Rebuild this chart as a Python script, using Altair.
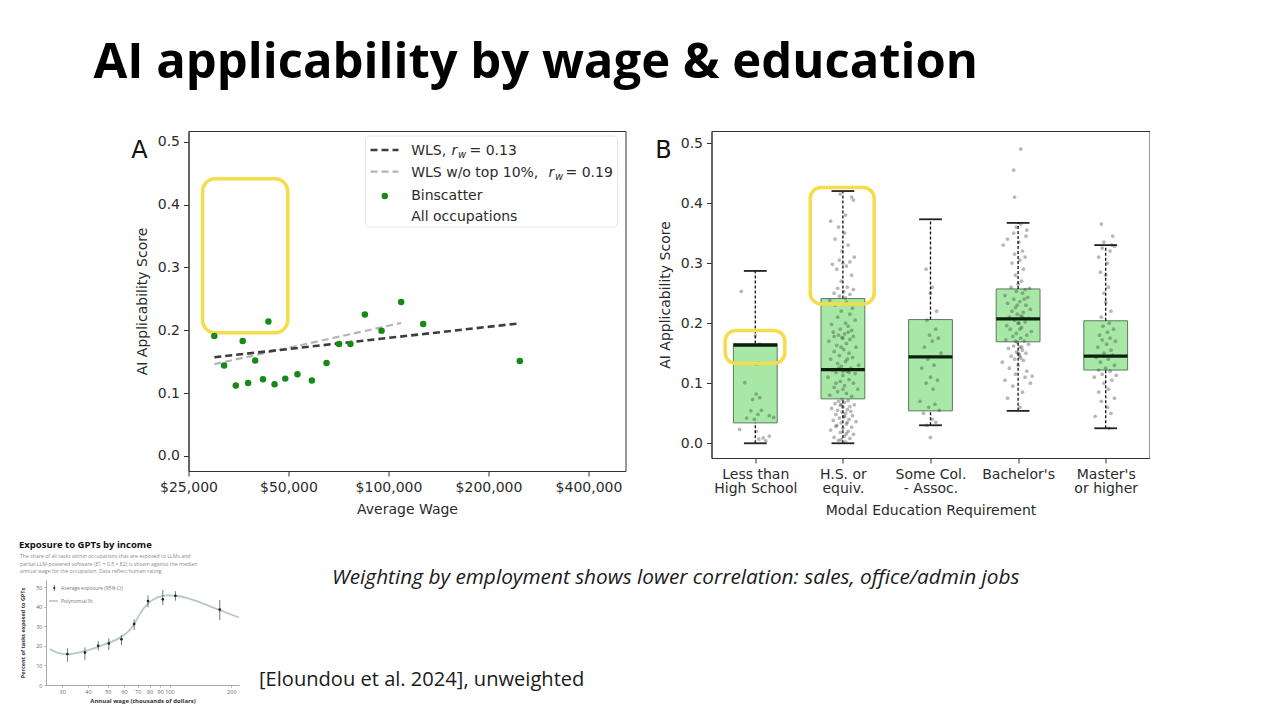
import json
import altair as alt
import pandas as pd

# ---------------- Panel A: binscatter of AI applicability vs wage ----------------
bin_wage = [29900, 32000, 34700, 36400, 37800, 39700, 41900, 43500, 45400, 48900,
            53200, 58800, 65100, 71000, 76800, 84900, 95300, 109200, 127200, 248500]
bin_score = [0.191, 0.144, 0.112, 0.183, 0.116, 0.152, 0.122, 0.214, 0.114, 0.123,
             0.130, 0.120, 0.148, 0.178, 0.178, 0.225, 0.199, 0.245, 0.210, 0.151]
wls_wage = [29900, 248500]
wls_score = [0.157, 0.211]
wls10_wage = [29900, 109200]
wls10_score = [0.146, 0.2115]
wage_ticks = [25000, 50000, 100000, 200000, 400000]
score_ticks = [0.0, 0.1, 0.2, 0.3, 0.4, 0.5]
hlA_wage = [27550]
hlA_wage2 = [49750]
hlA_score = [0.196]
hlA_score2 = [0.441]

# ---------------- Panel B: box plots by education ----------------
edu_labels = [["Less than", "High School"], ["H.S. or", "equiv."], ["Some Col.", "- Assoc."],
              ["Bachelor's"], ["Master's", "or higher"]]
edu_pos = [1, 2, 3, 4, 5]
box_lo = [0.000, 0.000, 0.030, 0.054, 0.025]
box_q1 = [0.034, 0.074, 0.054, 0.169, 0.122]
box_med = [0.1635, 0.1225, 0.144, 0.207, 0.145]
box_q3 = [0.166, 0.241, 0.206, 0.257, 0.204]
box_hi = [0.287, 0.420, 0.373, 0.367, 0.330]
hlB_pos = [0.656, 1.627]
hlB_pos2 = [1.337, 2.357]
hlB_score = [0.133, 0.232]
hlB_score2 = [0.188, 0.426]

# occupation points: (score, horizontal jitter)
occ_less_hs = [(0.023, -0.18), (0.020, 0.01), (0.009, 0.09), (0.007, 0.04), (0.012, 0.16),
               (0.048, 0.03), (0.054, -0.05), (0.055, 0.07), (0.046, 0.16), (0.043, 0.21),
               (0.042, -0.10), (0.040, -0.01), (0.076, 0.05), (0.082, 0.01), (0.101, -0.12),
               (0.132, 0.01), (0.179, 0.00), (0.165, 0.05), (0.073, -0.03), (0.253, -0.16),
               (0.133, 0.04), (0.004, 0.12)]
occ_hs = [(0.002, 0.03), (0.005, -0.05), (0.008, 0.08), (0.010, -0.10), (0.012, 0.02), (0.015, 0.12),
          (0.018, -0.03), (0.020, 0.06), (0.022, -0.14), (0.025, 0.00), (0.027, 0.10), (0.030, -0.07),
          (0.032, 0.04), (0.034, -0.02), (0.036, 0.15), (0.038, -0.11), (0.040, 0.07), (0.042, -0.04),
          (0.044, 0.01), (0.046, 0.11), (0.048, -0.08), (0.050, 0.03), (0.052, -0.01), (0.053, 0.09),
          (0.055, -0.06), (0.056, 0.05), (0.058, -0.13), (0.060, 0.00), (0.061, 0.08), (0.063, -0.03),
          (0.064, 0.13), (0.066, -0.09), (0.068, 0.02), (0.070, -0.05), (0.071, 0.06), (0.073, -0.01),
          (0.045, 0.02), (0.035, 0.05), (0.065, -0.02), (0.028, -0.08), (0.016, 0.04), (0.006, -0.02),
          (0.078, 0.10), (0.080, -0.15), (0.083, 0.04), (0.086, -0.06), (0.090, 0.17), (0.093, -0.10),
          (0.096, 0.02), (0.100, 0.12), (0.103, -0.03), (0.106, 0.07), (0.110, -0.17), (0.113, 0.00),
          (0.116, 0.14), (0.118, -0.08), (0.120, 0.05), (0.122, -0.12), (0.125, 0.09), (0.128, -0.02),
          (0.130, 0.18), (0.133, -0.06), (0.136, 0.03), (0.140, -0.14), (0.143, 0.11), (0.146, -0.04),
          (0.150, 0.07), (0.153, -0.10), (0.156, 0.01), (0.160, 0.15), (0.163, -0.07), (0.166, 0.04),
          (0.170, -0.16), (0.173, 0.08), (0.176, -0.01), (0.178, 0.12), (0.180, -0.05), (0.182, 0.02),
          (0.185, -0.11), (0.188, 0.10), (0.190, -0.03), (0.195, 0.06), (0.198, -0.13), (0.200, 0.03),
          (0.205, 0.14), (0.210, -0.06), (0.215, 0.08), (0.220, -0.02), (0.225, 0.11), (0.230, -0.09),
          (0.235, 0.04), (0.238, -0.15), (0.178, -0.10), (0.185, 0.06), (0.175, 0.00), (0.120, 0.00),
          (0.125, -0.05), (0.118, 0.07), (0.090, 0.00), (0.100, -0.08), (0.140, 0.05), (0.160, -0.02),
          (0.242, 0.03), (0.245, -0.04), (0.248, 0.08), (0.250, -0.10), (0.253, 0.01), (0.256, 0.12),
          (0.258, -0.06), (0.260, 0.05), (0.270, -0.02), (0.280, 0.10), (0.290, -0.07), (0.295, 0.04),
          (0.298, -0.12), (0.300, 0.00), (0.302, 0.08), (0.305, -0.04), (0.310, 0.13), (0.320, -0.01),
          (0.330, 0.06), (0.340, -0.09), (0.350, 0.02), (0.360, -0.05), (0.370, -0.14), (0.380, 0.03),
          (0.405, 0.12), (0.410, 0.10), (0.415, -0.03)]
occ_some_col = [(0.010, 0.00), (0.030, -0.04), (0.035, 0.06), (0.040, 0.02), (0.050, -0.08),
                (0.055, 0.10), (0.060, -0.02), (0.065, 0.05), (0.070, -0.12), (0.090, 0.03),
                (0.100, -0.05), (0.105, 0.08), (0.110, 0.00), (0.125, -0.10), (0.130, 0.04),
                (0.140, -0.03), (0.150, 0.12), (0.160, -0.07), (0.170, 0.02), (0.175, 0.09),
                (0.180, -0.01), (0.190, 0.06), (0.205, -0.04), (0.220, 0.07), (0.250, 0.00),
                (0.260, 0.02), (0.290, -0.05)]
occ_bachelor = [(0.060, 0.02), (0.075, -0.12), (0.085, 0.05), (0.095, -0.06), (0.100, 0.14), (0.105, -0.15),
                (0.110, 0.08), (0.112, 0.16), (0.115, -0.03), (0.120, 0.10), (0.125, -0.10), (0.130, 0.00),
                (0.135, -0.18), (0.138, 0.06), (0.140, -0.04), (0.142, 0.03), (0.145, -0.08), (0.148, 0.01),
                (0.150, 0.09), (0.152, -0.02), (0.155, 0.05), (0.158, -0.11), (0.160, 0.02), (0.162, -0.05),
                (0.165, 0.12), (0.168, -0.01), (0.170, 0.07), (0.172, -0.14), (0.175, 0.03), (0.178, -0.06),
                (0.180, 0.10), (0.183, -0.02), (0.186, 0.15), (0.190, -0.09), (0.193, 0.04), (0.196, -0.13),
                (0.200, 0.01), (0.202, 0.08), (0.205, -0.04), (0.208, 0.12), (0.210, -0.10), (0.212, 0.03),
                (0.215, -0.01), (0.218, 0.06), (0.220, -0.07), (0.223, 0.14), (0.226, -0.03), (0.230, 0.09),
                (0.233, -0.12), (0.236, 0.02), (0.240, -0.05), (0.243, 0.11), (0.246, -0.15), (0.250, 0.05),
                (0.253, -0.02), (0.256, 0.08), (0.258, 0.13), (0.260, -0.08), (0.265, 0.00), (0.270, 0.04),
                (0.280, -0.03), (0.290, 0.06), (0.300, -0.07), (0.305, 0.02), (0.310, 0.08), (0.315, -0.04),
                (0.320, 0.05), (0.330, -0.17), (0.335, 0.01), (0.340, -0.12), (0.345, 0.09), (0.350, -0.05),
                (0.355, 0.10), (0.360, -0.02), (0.365, 0.03), (0.410, -0.04), (0.455, -0.05), (0.490, 0.03),
                (0.200, 0.00), (0.210, 0.05), (0.190, 0.02), (0.230, -0.01), (0.170, -0.03), (0.150, 0.00),
                (0.240, 0.07), (0.160, 0.04), (0.145, 0.02)]
occ_master = [(0.025, 0.04), (0.045, -0.12), (0.050, 0.06), (0.060, 0.02), (0.070, -0.05), (0.075, 0.10),
              (0.085, -0.08), (0.090, 0.03), (0.100, -0.02), (0.105, 0.07), (0.110, -0.13), (0.113, 0.12),
              (0.115, -0.04), (0.120, 0.05), (0.122, -0.08), (0.125, 0.00), (0.130, 0.10), (0.135, -0.06),
              (0.140, 0.03), (0.143, -0.11), (0.147, 0.08), (0.150, -0.02), (0.155, 0.06), (0.160, -0.09),
              (0.165, 0.01), (0.170, 0.11), (0.172, -0.04), (0.175, 0.05), (0.180, -0.07), (0.185, 0.02),
              (0.190, 0.09), (0.195, -0.03), (0.200, 0.04), (0.210, -0.05), (0.220, 0.06), (0.235, 0.00),
              (0.250, -0.02), (0.260, 0.03), (0.280, 0.00), (0.285, -0.06), (0.300, 0.02), (0.310, -0.08),
              (0.320, 0.05), (0.325, -0.04), (0.328, 0.10), (0.330, 0.07), (0.335, -0.02), (0.345, 0.08),
              (0.365, -0.05)]

# ---------------- Inset: Eloundou et al. exposure by income ----------------
gpt_wage = [31.8, 38.7, 44.9, 50.6, 58.3, 67.2, 78.5, 92.7, 106.8, 175.7]
gpt_mean = [15.9, 16.6, 20.1, 21.3, 23.4, 31.2, 43.0, 43.9, 45.7, 38.7]
gpt_lo = [11.9, 12.8, 17.6, 17.9, 20.5, 28.2, 39.8, 41.0, 43.2, 33.3]
gpt_hi = [18.8, 19.3, 22.5, 23.9, 25.6, 33.6, 46.0, 48.6, 48.1, 43.5]
fit_wage = [26.1, 28.4, 31.7, 36.9, 42.8, 49.8, 57.7, 62.1, 66.8, 71.9, 78.2, 87.3, 97.9, 109.5, 131.4, 165.4, 218]
fit_pct = [18.4, 16.6, 15.7, 16.9, 18.8, 21.3, 24.4, 26.8, 30.7, 36.7, 41.5, 44.9, 45.9, 45.6, 43.5, 39.4, 34.6]
inset_wage_ticks = [30, 40, 50, 60, 70, 80, 90, 100, 200]
inset_pct_ticks = [0, 10, 20, 30, 40, 50]

# ---------------- styling ----------------
MPL = "DejaVu Sans"
SLIDE = "Open Sans"
INK = "#2b2b2b"
GREEN = "#17891a"
YELLOW = "#f4dd4a"


def one(**kw):
    return pd.DataFrame({k: [v] for k, v in kw.items()})


def label(text, x, y, size=14, style="normal", color=INK, font=MPL, weight="normal", align="left"):
    return alt.Chart(one(t=text)).mark_text(
        font=font, fontSize=size, fontStyle=style, fontWeight=weight, color=color,
        align=align, baseline="alphabetic").encode(text="t:N", x=alt.value(x), y=alt.value(y))


# ----- Panel A -----
scaleXA = alt.Scale(type="log", base=2, domain=[25000, 517000], nice=False)
scaleYA = alt.Scale(domain=[-0.024, 0.517], nice=False, zero=False)
axisXA = alt.Axis(values=wage_ticks, labelExpr="'$' + format(datum.value, ',')",
                  title="Average Wage", grid=False)
axisYA = alt.Axis(values=score_ticks, format=".1f", title="AI Applicability Score", grid=False)


def XA(f):
    return alt.X(f, scale=scaleXA, axis=axisXA)


def YA(f):
    return alt.Y(f, scale=scaleYA, axis=axisYA)


dfA = pd.DataFrame({"wage": bin_wage, "score": bin_score})
ptsA = alt.Chart(dfA).mark_circle(size=42, color=GREEN, opacity=1).encode(x=XA("wage:Q"), y=YA("score:Q"))
wlsA = alt.Chart(pd.DataFrame({"wage": wls_wage, "score": wls_score})).mark_line(
    color="#3d3d3d", strokeWidth=2.6, strokeDash=[7, 4]).encode(x=XA("wage:Q"), y=YA("score:Q"))
wls10A = alt.Chart(pd.DataFrame({"wage": wls10_wage, "score": wls10_score})).mark_line(
    color="#b4b4b4", strokeWidth=2.2, strokeDash=[7, 4]).encode(x=XA("wage:Q"), y=YA("score:Q"))
hlA = alt.Chart(pd.DataFrame({"wage": hlA_wage, "wage2": hlA_wage2, "score": hlA_score, "score2": hlA_score2})).mark_rect(
    fillOpacity=0, stroke=YELLOW, strokeWidth=3.5, cornerRadius=13).encode(
    x=XA("wage:Q"), x2="wage2:Q", y=YA("score:Q"), y2="score2:Q")

legA_box = alt.Chart(one(t="box")).mark_rect(fill="white", stroke="#e4e4e4", strokeWidth=1, cornerRadius=4).encode(
    x=alt.value(177), x2=alt.value(429), y=alt.value(5), y2=alt.value(96))
legA_l1 = alt.Chart(one(t="l1")).mark_rule(color="#3d3d3d", strokeWidth=2.6, strokeDash=[7, 4]).encode(
    x=alt.value(182), x2=alt.value(210), y=alt.value(19))
legA_l2 = alt.Chart(one(t="l2")).mark_rule(color="#b4b4b4", strokeWidth=2.2, strokeDash=[7, 4]).encode(
    x=alt.value(182), x2=alt.value(210), y=alt.value(40.7))
legA_pt = alt.Chart(one(t="p")).mark_circle(size=42, color=GREEN, opacity=1).encode(
    x=alt.value(196.3), y=alt.value(65))
legA_texts = [
    label("WLS,", 222.7, 23.7), label("r", 263, 23.7, style="italic"), label("w", 269.5, 26.7, size=10, style="italic"),
    label("= 0.13", 281, 23.7),
    label("WLS w/o top 10%,", 222.7, 45.7), label("r", 360, 45.7, style="italic"),
    label("w", 366.5, 48.7, size=10, style="italic"), label("= 0.19", 377, 45.7),
    label("Binscatter", 222.7, 69), label("All occupations", 222.7, 90.3),
]
letterA = label("A", -49, 27, size=24, align="center", color="#111")

panelA = alt.layer(hlA, wls10A, wlsA, ptsA, legA_box, legA_l1, legA_l2, legA_pt, *legA_texts,
                   letterA).properties(width=437, height=340)

# ----- Panel B -----
scaleXB = alt.Scale(domain=[0.5, 5.5], nice=False, zero=False)
scaleYB = alt.Scale(domain=[-0.0245, 0.52], nice=False, zero=False)
label_expr = "".join(f"datum.value == {p} ? {json.dumps(l)} : " for p, l in zip(edu_pos, edu_labels)) + "''"
axisXB = alt.Axis(values=edu_pos, labelExpr=label_expr, title="Modal Education Requirement", grid=False,
                  labelLineHeight=14.5)
axisYB = alt.Axis(values=score_ticks, format=".1f", title="AI Applicability Score", grid=False)


def XB(f):
    return alt.X(f, scale=scaleXB, axis=axisXB)


def YB(f):
    return alt.Y(f, scale=scaleYB, axis=axisYB)


dfB = pd.DataFrame({"pos": edu_pos, "lo": box_lo, "q1": box_q1, "med": box_med, "q3": box_q3, "hi": box_hi})
dfB["left"] = dfB["pos"] - 0.25
dfB["right"] = dfB["pos"] + 0.25
dfB["capl"] = dfB["pos"] - 0.13
dfB["capr"] = dfB["pos"] + 0.13

rows = []
for p, group in zip(edu_pos, [occ_less_hs, occ_hs, occ_some_col, occ_bachelor, occ_master]):
    for s, dx in group:
        rows.append({"pos": p + dx, "score": s})
dfOcc = pd.DataFrame(rows)

boxFill = alt.Chart(dfB).mark_rect(fill="#a7e8a7", stroke="#5c7a5c", strokeWidth=1).encode(
    x=XB("left:Q"), x2="right:Q", y=YB("q1:Q"), y2="q3:Q")
occPts = alt.Chart(dfOcc).mark_circle(size=14, color="#333333", opacity=0.35).encode(
    x=XB("pos:Q"), y=YB("score:Q"))
whiskHi = alt.Chart(dfB).mark_rule(color="#111", strokeWidth=1.3, strokeDash=[3, 2]).encode(
    x=XB("pos:Q"), y=YB("q3:Q"), y2="hi:Q")
whiskLo = alt.Chart(dfB).mark_rule(color="#111", strokeWidth=1.3, strokeDash=[3, 2]).encode(
    x=XB("pos:Q"), y=YB("lo:Q"), y2="q1:Q")
capHi = alt.Chart(dfB).mark_rule(color="#222", strokeWidth=1.8).encode(
    x=XB("capl:Q"), x2="capr:Q", y=YB("hi:Q"))
capLo = alt.Chart(dfB).mark_rule(color="#222", strokeWidth=1.8).encode(
    x=XB("capl:Q"), x2="capr:Q", y=YB("lo:Q"))
medLine = alt.Chart(dfB).mark_rule(color="#0c1f0c", strokeWidth=3.2).encode(
    x=XB("left:Q"), x2="right:Q", y=YB("med:Q"))
hlB = alt.Chart(pd.DataFrame({"pos": hlB_pos, "pos2": hlB_pos2, "score": hlB_score, "score2": hlB_score2})).mark_rect(
    fillOpacity=0, stroke=YELLOW, strokeWidth=3.5, cornerRadius=11).encode(
    x=XB("pos:Q"), x2="pos2:Q", y=YB("score:Q"), y2="score2:Q")
letterB = label("B", -48, 26.7, size=24, align="center", color="#111")

panelB = alt.layer(boxFill, occPts, whiskHi, whiskLo, capHi, capLo, medLine, hlB, letterB).properties(
    width=438, height=327)

# ----- Inset -----
scaleXI = alt.Scale(type="log", domain=[25, 218], nice=False)
scaleYI = alt.Scale(domain=[0, 53.8], nice=False, zero=False)
axisXI = alt.Axis(values=inset_wage_ticks, format="d", title="Annual wage (thousands of dollars)", grid=False,
                  labelFontSize=5.5, labelColor="#666", titleFontSize=6, titleFontWeight="bold", titleColor="#333",
                  tickSize=2, labelPadding=2, titlePadding=3, domainColor="#aaa", tickColor="#aaa",
                  labelFont=SLIDE, titleFont=SLIDE)
axisYI = alt.Axis(values=inset_pct_ticks, title="Percent of tasks exposed to GPTs", grid=False,
                  labelFontSize=5.5, labelColor="#666", titleFontSize=5.5, titleFontWeight="bold",
                  titleColor="#333", tickSize=2, labelPadding=2, titlePadding=10, domainColor="#aaa",
                  tickColor="#aaa", labelFont=SLIDE, titleFont=SLIDE)


def XI(f):
    return alt.X(f, scale=scaleXI, axis=axisXI)


def YI(f):
    return alt.Y(f, scale=scaleYI, axis=axisYI)


fitI = alt.Chart(pd.DataFrame({"wage": fit_wage, "pct": fit_pct})).mark_line(
    color="#b7c8cc", strokeWidth=1.8, interpolate="monotone").encode(x=XI("wage:Q"), y=YI("pct:Q"))
dfG = pd.DataFrame({"wage": gpt_wage, "pct": gpt_mean, "lo": gpt_lo, "hi": gpt_hi})
errI = alt.Chart(dfG).mark_rule(color="#555", strokeWidth=0.8).encode(x=XI("wage:Q"), y=YI("lo:Q"), y2="hi:Q")
ptsI = alt.Chart(dfG).mark_circle(size=7, color="#222", opacity=1).encode(x=XI("wage:Q"), y=YI("pct:Q"))
legI_err = alt.Chart(one(t="e")).mark_rule(color="#555", strokeWidth=0.8).encode(
    x=alt.value(8.3), y=alt.value(5), y2=alt.value(11))
legI_dot = alt.Chart(one(t="d")).mark_circle(size=5, color="#222", opacity=1).encode(
    x=alt.value(8.3), y=alt.value(8))
legI_fit = alt.Chart(one(t="f")).mark_rule(color="#b7c8cc", strokeWidth=1.8).encode(
    x=alt.value(3), x2=alt.value(12), y=alt.value(21))
inset_texts = [
    label("Average exposure (95% CI)", 15, 10, size=5, color="#777", font=SLIDE),
    label("Polynomial fit", 15, 23, size=5, color="#777", font=SLIDE),
    label("Exposure to GPTs by income", -27, -32, size=9.5, weight="bold", color="#111", font=SLIDE),
    label("The share of all tasks within occupations that are exposed to LLMs and", -26, -22, size=5.2,
          color="#8a8a8a", font=SLIDE),
    label("partial LLM-powered software (E1 + 0.5 \u00d7 E2) is shown against the median", -26, -14.5, size=5.2,
          color="#8a8a8a", font=SLIDE),
    label("annual wage for the occupation. Data reflect human rating.", -26, -7, size=5.2,
          color="#8a8a8a", font=SLIDE),
    label("Weighting by employment shows lower correlation: sales, office/admin jobs", 286, 3.5, size=20.8,
          style="italic", color="#1a1a1a", font=SLIDE),
    label("[Eloundou et al. 2024], unweighted", 213, 105.7, size=20.1, color="#1a1a1a", font=SLIDE),
]
inset = alt.layer(fitI, errI, ptsI, legI_err, legI_dot, legI_fit, *inset_texts).properties(
    width=193, height=105, view=alt.ViewBackground(stroke="transparent"))

# invisible 1px anchor whose origin lines up with the inset plot, so panels can sit to its right
anchor = alt.Chart(one(t="")).mark_rule(opacity=0).encode(
    x=alt.value(0), y=alt.value(0), y2=alt.value(1)).properties(
    width=1, height=1, view=alt.ViewBackground(stroke="transparent"))

top_row = alt.hconcat(anchor, alt.hconcat(panelA, panelB, spacing=28), spacing=82.5)

chart = alt.vconcat(top_row, inset, spacing=21).properties(
    title=alt.TitleParams("AI applicability by wage & education", font=SLIDE, fontSize=49, fontWeight="bold",
                          color="#000", anchor="start", dx=75, offset=43),
    padding={"left": 10, "top": 30, "right": 0, "bottom": 0},
    background="white",
).configure_view(stroke="#333", strokeWidth=1).configure_axis(
    labelFont=MPL, labelFontSize=14, labelColor=INK, titleFont=MPL, titleFontSize=14, titleFontWeight="normal",
    titleColor=INK, tickColor="#333", domainColor="#333", tickSize=5, labelPadding=4, labelFlush=False,
    labelOverlap=False, titlePadding=8,
)

chart.save("out.html", embed_options={"renderer": "svg", "actions": False})
